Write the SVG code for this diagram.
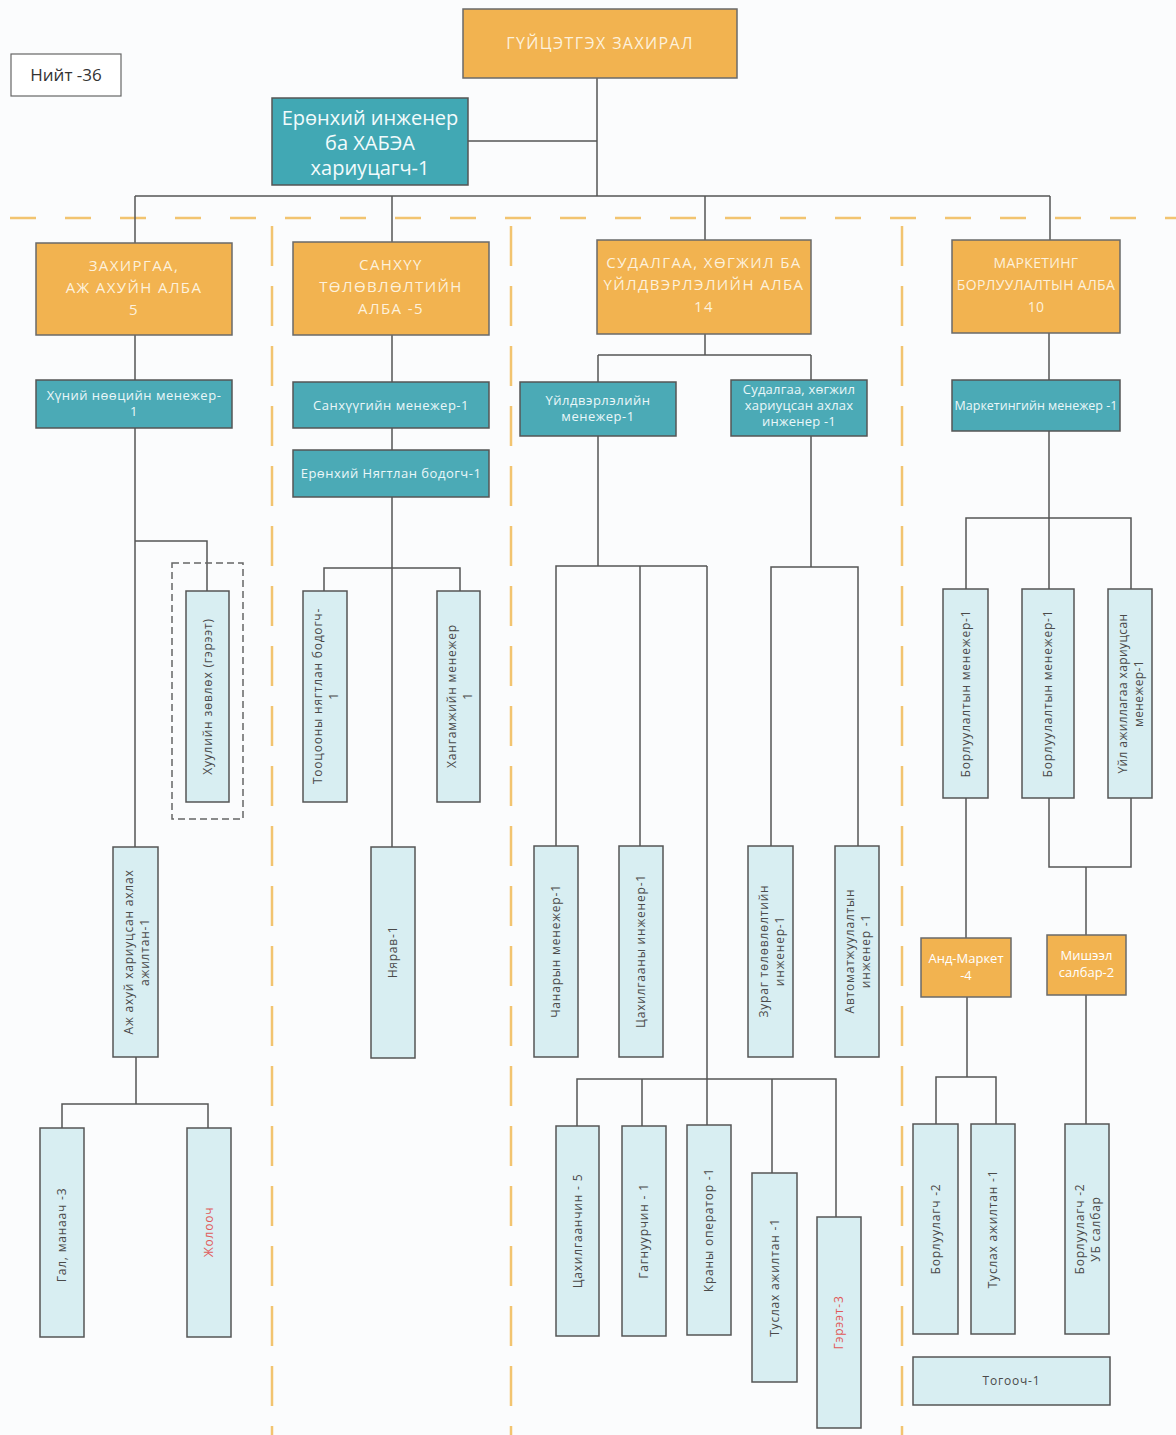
<svg xmlns="http://www.w3.org/2000/svg" width="1176" height="1435" viewBox="0 0 1176 1435">
<defs>
<style>
text{font-family:"Open Sans","DejaVu Sans",sans-serif;text-anchor:middle}
.org{fill:#F2B350;stroke:#6a6a6a;stroke-width:1.5}
.teal{fill:#4BAAB6;stroke:#555;stroke-width:1.5}
.lt{fill:#D8EEF2;stroke:#555;stroke-width:1.5}
.wb{fill:#fff;stroke:#666;stroke-width:1.2}
.tw{fill:#FDF1DC;font-size:15px;letter-spacing:1.4px}
.tt{fill:#EAF7F9;font-size:13px;letter-spacing:0.5px}
.td{fill:#4a4a4a;font-size:12px;letter-spacing:0.8px}
.red{fill:#E05A5A}
.c{fill:none;stroke:#555;stroke-width:1.5}
.dh{fill:none;stroke:#F2C470;stroke-width:2.5;stroke-dasharray:26 29}
.dv{fill:none;stroke:#F2C470;stroke-width:2.5;stroke-dasharray:40 20}
.gd{fill:none;stroke:#666;stroke-width:1.5;stroke-dasharray:7 4}
</style>
</defs>
<rect width="1176" height="1435" fill="#FBFCFD"/>

<g id="dividers">
<line class="dh" x1="10" y1="218" x2="1176" y2="218"/>
<line class="dv" x1="272" y1="226" x2="272" y2="1435"/>
<line class="dv" x1="511" y1="226" x2="511" y2="1435"/>
<line class="dv" x1="902" y1="226" x2="902" y2="1435"/>
</g>

<g id="connectors">
<path class="c" d="M597 78V196M468 141H597M135 196H1050M135 196V243M392 196V242M705 196V240M1050 196V240"/>
<path class="c" d="M135 335V380M135 428V847M135 541H207V591M136 1057V1104M62 1128V1104H208V1128"/>
<path class="c" d="M392 335V382M392 428V450M392 497V847M324 591V568H460V591"/>
<path class="c" d="M705 334V355M598 355H811M598 355V382M811 355V380"/>
<path class="c" d="M598 436V566M556 846V566H707M640 566V846M707 566V1079"/>
<path class="c" d="M811 436V567M771 846V567H858V846"/>
<path class="c" d="M577 1126V1079H836V1217M642 1079V1126M707 1079V1125M772 1079V1173"/>
<path class="c" d="M1049 333V380M1049 431V589M966 589V518H1131V589"/>
<path class="c" d="M966 798V938M1049 798V867H1131V798M1086 867V935M967 997V1077M936 1124V1077H996V1124M1086 995V1124"/>
</g>

<g id="total"><rect class="wb" x="11" y="54" width="110" height="42"/><text x="66" y="81" font-size="17" fill="#333">Нийт -36</text></g>

<g id="director"><rect class="org" x="463" y="9" width="274" height="69"/><text class="tw" x="600" y="49" style="font-size:16px">ГҮЙЦЭТГЭХ ЗАХИРАЛ</text></g>

<g id="chief-engineer"><rect x="272" y="98" width="196" height="87" fill="#41A8B4" stroke="#555" stroke-width="1.5"/>
<text y="125" font-size="20" fill="#F2FBFC"><tspan x="370">Ерөнхий инженер</tspan><tspan x="370" dy="25">ба ХАБЭА</tspan><tspan x="370" dy="25">хариуцагч-1</tspan></text></g>

<g id="dept-admin"><rect class="org" x="36" y="243" width="196" height="92"/>
<text class="tw" y="271"><tspan x="134">ЗАХИРГАА,</tspan><tspan x="134" dy="22">АЖ АХУЙН АЛБА</tspan><tspan x="134" dy="22">5</tspan></text></g>
<g id="dept-finance"><rect class="org" x="293" y="242" width="196" height="93"/>
<text class="tw" y="270"><tspan x="391">САНХҮҮ</tspan><tspan x="391" dy="22">ТӨЛӨВЛӨЛТИЙН</tspan><tspan x="391" dy="22">АЛБА -5</tspan></text></g>
<g id="dept-research"><rect class="org" x="597" y="240" width="214" height="94"/>
<text class="tw" y="268"><tspan x="704">СУДАЛГАА, ХӨГЖИЛ БА</tspan><tspan x="704" dy="22">ҮЙЛДВЭРЛЭЛИЙН АЛБА</tspan><tspan x="704" dy="22">14</tspan></text></g>
<g id="dept-marketing"><rect class="org" x="952" y="240" width="168" height="93"/>
<text class="tw" y="268" style="font-size:14px;letter-spacing:0.3px"><tspan x="1036">МАРКЕТИНГ</tspan><tspan x="1036" dy="22">БОРЛУУЛАЛТЫН АЛБА</tspan><tspan x="1036" dy="22">10</tspan></text></g>

<g id="hr"><rect class="teal" x="36" y="380" width="196" height="48"/><text class="tt" y="400"><tspan x="134">Хүний нөөцийн менежер-</tspan><tspan x="134" dy="16">1</tspan></text></g>
<g id="fin-mgr"><rect class="teal" x="293" y="382" width="196" height="46"/><text class="tt" x="391" y="410">Санхүүгийн менежер-1</text></g>
<g id="chief-acc"><rect class="teal" x="293" y="450" width="196" height="47"/><text class="tt" x="391" y="478">Ерөнхий Нягтлан бодогч-1</text></g>
<g id="prod-mgr"><rect class="teal" x="520" y="382" width="156" height="54"/><text class="tt" y="405"><tspan x="598">Үйлдвэрлэлийн</tspan><tspan x="598" dy="16">менежер-1</tspan></text></g>
<g id="rd-eng"><rect class="teal" x="731" y="380" width="136" height="56"/><text class="tt" y="394" style="letter-spacing:0.2px"><tspan x="799">Судалгаа, хөгжил</tspan><tspan x="799" dy="16">хариуцсан ахлах</tspan><tspan x="799" dy="16">инженер -1</tspan></text></g>
<g id="mkt-mgr"><rect class="teal" x="952" y="380" width="168" height="51"/><text class="tt" x="1036" y="410" style="letter-spacing:0px;font-size:12.5px">Маркетингийн менежер -1</text></g>

<g id="legal"><rect class="gd" x="172" y="563" width="71" height="256"/><rect class="lt" x="186" y="591" width="43" height="211"/>
<text class="td" transform="translate(207.5 696.5) rotate(-90)" y="4">Хуулийн зөвлөх (гэрээт)</text></g>
<g id="admin-sup"><rect class="lt" x="113" y="847" width="45" height="210"/>
<text class="td" transform="translate(135.5 952) rotate(-90)"><tspan x="0" y="-3">Аж ахуй хариуцсан ахлах</tspan><tspan x="0" y="13">ажилтан-1</tspan></text></g>
<g id="guard"><rect class="lt" x="40" y="1128" width="44" height="209"/><text class="td" transform="translate(62 1235) rotate(-90)" y="4">Гал, манаач -3</text></g>
<g id="driver"><rect class="lt" x="187" y="1128" width="44" height="209"/><text class="td red" transform="translate(209 1232) rotate(-90)" y="4">Жолооч</text></g>

<g id="settle-acc"><rect class="lt" x="303" y="591" width="44" height="211"/>
<text class="td" transform="translate(325 696) rotate(-90)"><tspan x="0" y="-3">Тооцооны нягтлан бодогч-</tspan><tspan x="0" y="13">1</tspan></text></g>
<g id="supply"><rect class="lt" x="437" y="591" width="43" height="211"/>
<text class="td" transform="translate(458.5 696) rotate(-90)"><tspan x="0" y="-3">Хангамжийн менежер</tspan><tspan x="0" y="13">1</tspan></text></g>
<g id="storekeeper"><rect class="lt" x="371" y="847" width="44" height="211"/><text class="td" transform="translate(393 952) rotate(-90)" y="4">Нярав-1</text></g>

<g id="quality"><rect class="lt" x="534" y="846" width="44" height="211"/><text class="td" transform="translate(556 951) rotate(-90)" y="4">Чанарын менежер-1</text></g>
<g id="elec-eng"><rect class="lt" x="619" y="846" width="44" height="211"/><text class="td" transform="translate(641 951) rotate(-90)" y="4">Цахилгааны инженер-1</text></g>
<g id="design-eng"><rect class="lt" x="748" y="846" width="45" height="211"/>
<text class="td" transform="translate(770.5 951) rotate(-90)"><tspan x="0" y="-3">Зураг төлөвлөлтийн</tspan><tspan x="0" y="13">инженер-1</tspan></text></g>
<g id="auto-eng"><rect class="lt" x="835" y="846" width="44" height="211"/>
<text class="td" transform="translate(857 951) rotate(-90)"><tspan x="0" y="-3">Автоматжуулалтын</tspan><tspan x="0" y="13">инженер -1</tspan></text></g>

<g id="electrician"><rect class="lt" x="556" y="1126" width="43" height="210"/><text class="td" transform="translate(577.5 1231) rotate(-90)" y="4">Цахилгаанчин - 5</text></g>
<g id="welder"><rect class="lt" x="622" y="1126" width="44" height="210"/><text class="td" transform="translate(644 1231) rotate(-90)" y="4">Гагнуурчин - 1</text></g>
<g id="crane"><rect class="lt" x="687" y="1125" width="44" height="210"/><text class="td" transform="translate(709 1230) rotate(-90)" y="4">Краны оператор -1</text></g>
<g id="assist-rd"><rect class="lt" x="752" y="1173" width="45" height="209"/><text class="td" transform="translate(774.5 1277.5) rotate(-90)" y="4">Туслах ажилтан -1</text></g>
<g id="contract"><rect class="lt" x="817" y="1217" width="44" height="211"/><text class="td red" transform="translate(839 1322.5) rotate(-90)" y="4">Гэрээт-3</text></g>

<g id="sales-mgr1"><rect class="lt" x="943" y="589" width="45" height="209"/><text class="td" transform="translate(965.5 693.5) rotate(-90)" y="4">Борлуулалтын менежер-1</text></g>
<g id="sales-mgr2"><rect class="lt" x="1022" y="589" width="52" height="209"/><text class="td" transform="translate(1048 693.5) rotate(-90)" y="4">Борлуулалтын  менежер-1</text></g>
<g id="ops-mgr"><rect class="lt" x="1108" y="589" width="44" height="209"/>
<text class="td" transform="translate(1130 693.5) rotate(-90)" style="letter-spacing:0.4px"><tspan x="0" y="-3">Үйл ажиллагаа хариуцсан</tspan><tspan x="0" y="13">менежер-1</tspan></text></g>

<g id="and-market"><rect class="org" x="921" y="938" width="90" height="59"/><text y="963" font-size="13" fill="#fff"><tspan x="966">Анд-Маркет</tspan><tspan x="966" dy="17">-4</tspan></text></g>
<g id="misheel"><rect class="org" x="1047" y="935" width="79" height="60"/><text y="960" font-size="13" fill="#fff"><tspan x="1086.5">Мишээл</tspan><tspan x="1086.5" dy="17">салбар-2</tspan></text></g>

<g id="seller1"><rect class="lt" x="913" y="1124" width="45" height="210"/><text class="td" transform="translate(935.5 1229) rotate(-90)" y="4">Борлуулагч -2</text></g>
<g id="assist-mkt"><rect class="lt" x="971" y="1124" width="44" height="210"/><text class="td" transform="translate(993 1229) rotate(-90)" y="4">Туслах ажилтан -1</text></g>
<g id="seller-ub"><rect class="lt" x="1065" y="1124" width="44" height="210"/>
<text class="td" transform="translate(1087 1229) rotate(-90)"><tspan x="0" y="-3">Борлуулагч -2</tspan><tspan x="0" y="13">УБ салбар</tspan></text></g>
<g id="cook"><rect class="lt" x="913" y="1357" width="197" height="48"/><text class="td" x="1011.5" y="1385">Тогооч-1</text></g>
</svg>
